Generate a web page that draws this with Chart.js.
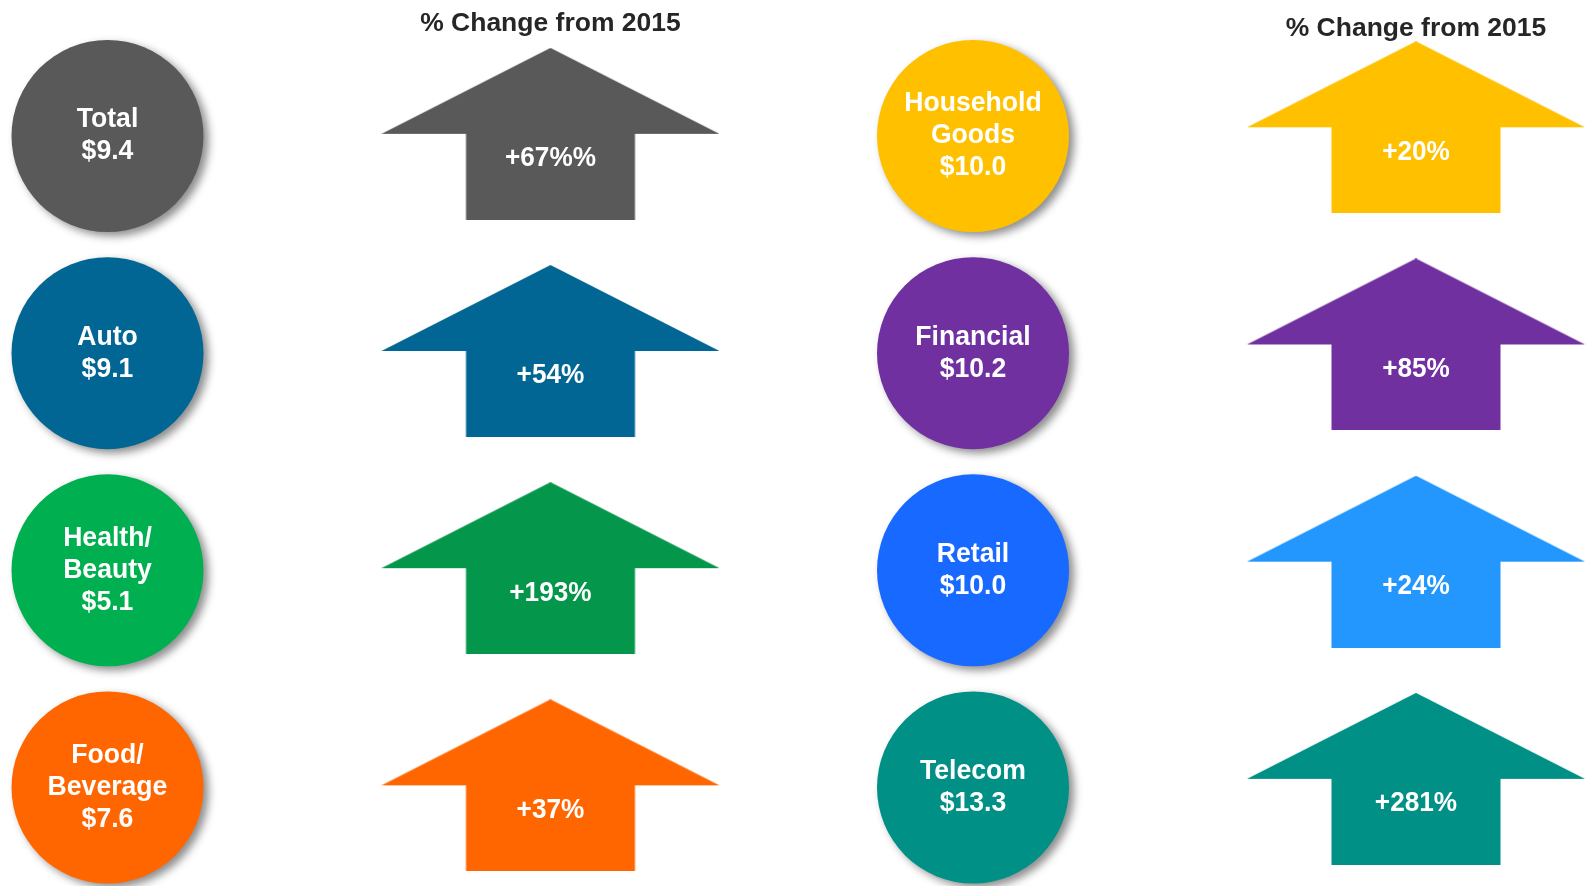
<!DOCTYPE html>
<html>
<head>
<meta charset="utf-8">
<title>% Change from 2015</title>
<script src="https://cdn.jsdelivr.net/npm/chart.js@4.4.1/dist/chart.umd.min.js"></script>
<style>
    html, body { margin: 0; padding: 0; background: #ffffff; }
    #wrap { position: relative; width: 1589px; height: 886px; }
</style>
</head>
<body>
<div id="wrap"><canvas id="spendChart"></canvas></div>
<script>
// categories (left column first, then right column), top to bottom
const categoryLines = [
    ['Total'], ['Auto'], ['Health/', 'Beauty'], ['Food/', 'Beverage'],
    ['Household', 'Goods'], ['Financial'], ['Retail'], ['Telecom']
];
const spendValues = [9.4, 9.1, 5.1, 7.6, 10.0, 10.2, 10.0, 13.3];
const changeLabels = ['+67%%', '+54%', '+193%', '+37%', '+20%', '+85%', '+24%', '+281%'];
const columnTitles = ['% Change from 2015', '% Change from 2015'];

const circleColors = ['#595959', '#016693', '#00b050', '#ff6600', '#ffc000', '#7030a0', '#1769ff', '#009086'];
const arrowColors  = ['#595959', '#016693', '#04964a', '#ff6600', '#ffc000', '#7030a0', '#2397fe', '#009086'];

const ROWS = 4;
const ARROW_W = 338, ARROW_H = 172, STEM_W = 169, HEAD_H = 86;
const ARROW_DX = 0.5118;
const ARROW_DY = [-0.01, -0.04];   // per column, in row units
const TITLE_GAP = [24, 12];        // px above the first arrow, per column
const FONT = '"Liberation Sans", Arial, sans-serif';

function colOf(i) { return Math.floor(i / ROWS); }
function rowOf(i) { return i % ROWS; }

function makeArrow(color) {
    const c = document.createElement('canvas');
    c.width = ARROW_W;
    c.height = ARROW_H;
    const g = c.getContext('2d');
    const mid = ARROW_W / 2, s = STEM_W / 2;
    g.fillStyle = color;
    g.beginPath();
    g.moveTo(mid, 0);
    g.lineTo(ARROW_W, HEAD_H);
    g.lineTo(mid + s, HEAD_H);
    g.lineTo(mid + s, ARROW_H);
    g.lineTo(mid - s, ARROW_H);
    g.lineTo(mid - s, HEAD_H);
    g.lineTo(0, HEAD_H);
    g.closePath();
    g.fill();
    return c;
}

const circleShadow = {
    id: 'circleShadow',
    beforeDatasetDraw(chart, args) {
        if (args.index !== 0) return;
        const ctx = chart.ctx;
        ctx.save();
        ctx.shadowColor = 'rgba(0, 0, 0, 0.45)';
        ctx.shadowBlur = 9;
        ctx.shadowOffsetX = 5;
        ctx.shadowOffsetY = 4;
    },
    afterDatasetDraw(chart, args) {
        if (args.index === 0) chart.ctx.restore();
    }
};

function drawText(ctx, text, x, y, sx) {
    ctx.save();
    ctx.translate(x, y);
    ctx.scale(sx, 1);
    ctx.fillText(text, 0, 0);
    ctx.restore();
}

const labelText = {
    id: 'labelText',
    afterDatasetsDraw(chart) {
        const ctx = chart.ctx;
        ctx.save();
        ctx.textAlign = 'center';
        ctx.textBaseline = 'middle';

        // circle captions
        ctx.fillStyle = '#ffffff';
        ctx.font = 'bold 27px ' + FONT;
        chart.getDatasetMeta(0).data.forEach((pt, i) => {
            const lines = categoryLines[i].concat('$' + spendValues[i].toFixed(1));
            const lh = 32;
            const top = pt.y - (lines.length - 1) * lh / 2;
            lines.forEach((t, k) => drawText(ctx, t, pt.x, top + k * lh, 0.985));
        });

        // arrow captions
        chart.getDatasetMeta(1).data.forEach((pt, i) => {
            drawText(ctx, changeLabels[i], pt.x, pt.y + 25, 0.97);
        });

        // column headers above the first arrow of each column
        ctx.fillStyle = '#262626';
        ctx.font = 'bold 25px ' + FONT;
        chart.getDatasetMeta(1).data.forEach((pt, i) => {
            if (rowOf(i) !== 0) return;
            const c = colOf(i);
            drawText(ctx, columnTitles[c], pt.x, pt.y - ARROW_H / 2 - TITLE_GAP[c], 1.06);
        });
        ctx.restore();
    }
};

function initSpendChart() {
    const ctx = document.getElementById('spendChart');
    new Chart(ctx.getContext('2d'), {
        type: 'scatter',
        data: {
            datasets: [
                {
                    label: 'Spend',
                    data: spendValues.map((v, i) => ({ x: colOf(i), y: rowOf(i) })),
                    backgroundColor: circleColors,
                    borderWidth: 0,
                    pointRadius: 96,
                    pointHoverRadius: 96,
                    pointStyle: 'circle'
                },
                {
                    label: 'Change',
                    data: changeLabels.map((v, i) => ({ x: colOf(i) + ARROW_DX, y: rowOf(i) + ARROW_DY[colOf(i)] })),
                    pointStyle: arrowColors.map(makeArrow),
                    pointRadius: 1,
                    pointHoverRadius: 1,
                    borderWidth: 0
                }
            ]
        },
        options: {
            responsive: true,
            maintainAspectRatio: false,
            devicePixelRatio: 1,
            animation: false,
            events: [],
            layout: { padding: 0, autoPadding: false },
            plugins: {
                legend: { display: false },
                tooltip: { enabled: false }
            },
            scales: {
                x: { type: 'linear', display: false, min: -0.1242, max: 1.7117 },
                y: { type: 'linear', display: false, reverse: true, min: -0.6262, max: 3.4535 }
            }
        },
        plugins: [circleShadow, labelText]
    });
}

initSpendChart();
</script>
</body>
</html>
